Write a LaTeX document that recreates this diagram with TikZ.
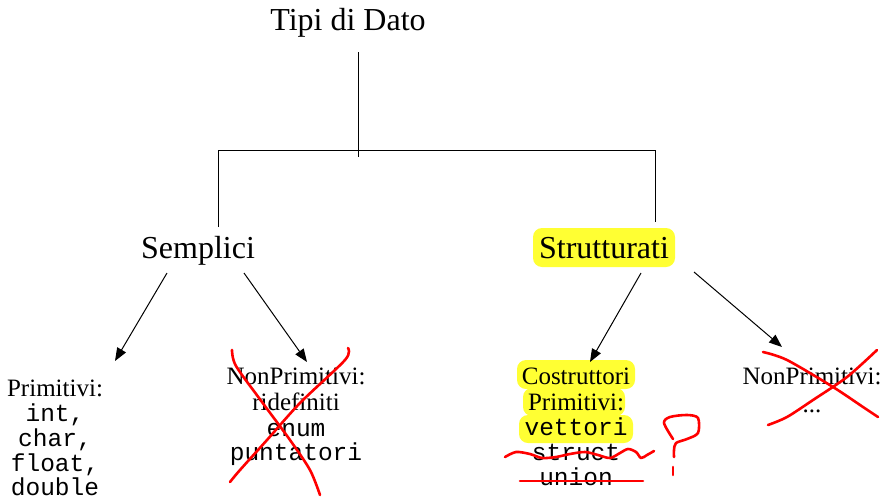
\documentclass[tikz,border=0pt]{standalone}
\usepackage{fontspec}
\setmainfont{Liberation Serif}
\setmonofont{Liberation Mono}
\usetikzlibrary{arrows.meta}
\definecolor{hl}{RGB}{255,255,51}
\definecolor{pen}{RGB}{255,0,0}
\begin{document}
\begin{tikzpicture}[x=1pt,y=-1pt,
  big/.style={inner sep=0pt,anchor=base,font=\fontsize{32}{36}\selectfont},
  small/.style={inner sep=0pt,anchor=base,font=\fontsize{25}{25}\selectfont},
  mono/.style={inner sep=0pt,anchor=base,font=\fontsize{24.5}{25}\selectfont\ttfamily},
  tree/.style={line width=1pt,black},
  arr/.style={line width=1pt,black,-{Triangle[length=13pt,width=10pt]}},
  redpen/.style={line width=2.6pt,pen,line cap=round,line join=round},
  hlbox/.style={fill=hl,rounded corners=9pt}]
\useasboundingbox (0,0) rectangle (893,498);
% highlights
\fill[hlbox] (533,228) rectangle (675,267);
\fill[hlbox] (517,360) rectangle (635,389);
\fill[hlbox] (523,388) rectangle (625,416);
\fill[hlbox] (519,415) rectangle (633,443);
% texts
\node[big] (tipi) at (348,30) {Tipi di Dato};
\node[big] (semp) at (198,258) {Semplici};
\node[big] (strut) at (604,258) {Strutturati};
\node[small] (prim1) at (55,396) {Primitivi:};
\node[mono] (prim2) at (55,421) {int,};
\node[mono] (prim3) at (55,446) {char,};
\node[mono] (prim4) at (55,471) {float,};
\node[mono] (prim5) at (55,495) {double};
\node[small] (nonpa1) at (296,384) {NonPrimitivi:};
\node[small] (nonpa2) at (296,410) {ridefiniti};
\node[mono] (nonpa3) at (296,436) {enum};
\node[mono] (nonpa4) at (296,460) {puntatori};
\node[small] (costr1) at (576,384) {Costruttori};
\node[small] (costr2) at (576,410) {Primitivi:};
\node[mono] (costr3) at (576,435) {vettori};
\node[mono] (costr4) at (576,460) {struct};
\node[mono] (costr5) at (576,485) {union};
\node[small] (nonpb1) at (812,384) {NonPrimitivi:};
\node[small] (nonpb2) at (812,412) {...};
% tree lines
\coordinate (top) at (358,52);
\coordinate (mid) at (358,157);
\coordinate (hl) at (218,150);
\coordinate (hr) at (655,150);
\coordinate (sl) at (218,227);
\coordinate (sr) at (655,222);
\draw[tree] (top) -- (mid);
\draw[tree] (sl) -- (hl) -- (hr) -- (sr);
% arrows
\coordinate (a1s) at (167,273); \coordinate (a1e) at (115,361);
\coordinate (a2s) at (244,273); \coordinate (a2e) at (307,362);
\coordinate (a3s) at (641,273); \coordinate (a3e) at (590,362);
\coordinate (a4s) at (694,272); \coordinate (a4e) at (782,347);
\draw[arr] (a1s) -- (a1e);
\draw[arr] (a2s) -- (a2e);
\draw[arr] (a3s) -- (a3e);
\draw[arr] (a4s) -- (a4e);
% red crosses
\draw[redpen] plot[smooth] coordinates {(232,350) (236,366) (262,402) (290,440) (310,470) (320,495)};
\draw[redpen] plot[smooth] coordinates {(348,348) (345,360) (300,403) (267,440) (240,470) (230,482)};
\draw[redpen] plot[smooth] coordinates {(763,352) (787,360) (833,387) (863,407) (878,417)};
\draw[redpen] plot[smooth] coordinates {(877,350) (847,377) (813,400) (787,417) (768,425)};
% strike-throughs
\draw[redpen] plot[smooth] coordinates {(505,457) (516,452) (530,454) (542,458) (556,457) (570,454) (585,452) (598,455) (610,458) (620,453) (628,449) (636,452) (641,458) (647,455) (654,451)};
\draw[redpen] (520,481) -- (643,481);
% question mark
\draw[redpen] plot[smooth] coordinates {(673,439) (664,423) (670,417) (687,415) (698,418) (698,433) (687,439) (676,443) (674,450) (674,457)};
\draw[redpen] (673,467) -- (673,475);
\end{tikzpicture}
\end{document}
